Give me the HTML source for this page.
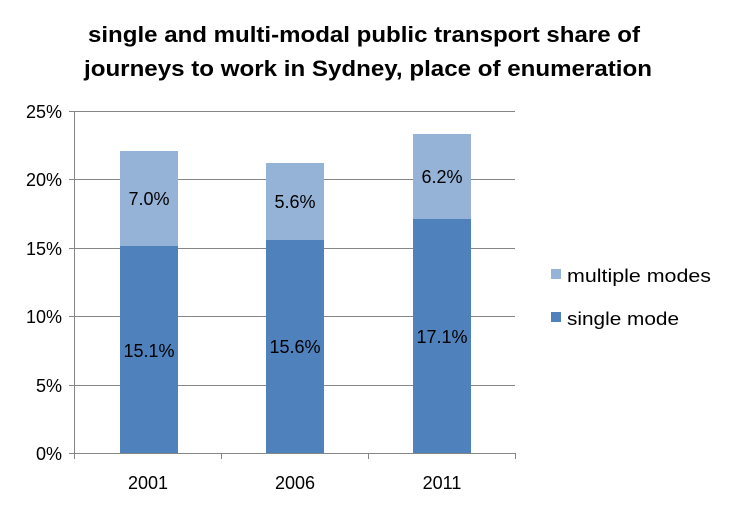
<!DOCTYPE html>
<html><head><meta charset="utf-8"><style>
body{margin:0;background:#fff;}
svg text{font-family:"Liberation Sans",sans-serif;}
</style></head><body>
<svg width="733" height="509" xmlns="http://www.w3.org/2000/svg">
<rect width="733" height="509" fill="#fff"/>
<text x="88" y="42" font-size="22" font-weight="bold" textLength="552" lengthAdjust="spacingAndGlyphs">single and multi-modal public transport share of</text>
<text x="84" y="76" font-size="22" font-weight="bold" textLength="568" lengthAdjust="spacingAndGlyphs">journeys to work in Sydney, place of enumeration</text>
<g stroke="#868686" stroke-width="1">
<line x1="74" y1="111.5" x2="515" y2="111.5"/>
<line x1="74" y1="179.5" x2="515" y2="179.5"/>
<line x1="74" y1="248.5" x2="515" y2="248.5"/>
<line x1="74" y1="316.5" x2="515" y2="316.5"/>
<line x1="74" y1="385.5" x2="515" y2="385.5"/>
<line x1="74" y1="453.5" x2="515" y2="453.5"/>
<line x1="74.5" y1="111" x2="74.5" y2="459"/>
<line x1="69" y1="111.5" x2="74" y2="111.5"/>
<line x1="69" y1="179.5" x2="74" y2="179.5"/>
<line x1="69" y1="248.5" x2="74" y2="248.5"/>
<line x1="69" y1="316.5" x2="74" y2="316.5"/>
<line x1="69" y1="385.5" x2="74" y2="385.5"/>
<line x1="69" y1="453.5" x2="74" y2="453.5"/>
<line x1="221.5" y1="453" x2="221.5" y2="459"/>
<line x1="368.5" y1="453" x2="368.5" y2="459"/>
<line x1="515.5" y1="453" x2="515.5" y2="459"/>
</g>
<g font-size="18" text-anchor="end">
<text x="62" y="118">25%</text><text x="62" y="186">20%</text><text x="62" y="255">15%</text>
<text x="62" y="323">10%</text><text x="62" y="392">5%</text><text x="62" y="460">0%</text>
</g>
<g font-size="18" text-anchor="middle">
<text x="148" y="489">2001</text><text x="295" y="489">2006</text><text x="442" y="489">2011</text>
</g>
<rect x="120" y="246" width="58" height="207" fill="#4F81BD"/>
<rect x="120" y="151" width="58" height="95" fill="#95B3D7"/>
<rect x="266" y="240" width="58" height="213" fill="#4F81BD"/>
<rect x="266" y="163" width="58" height="77" fill="#95B3D7"/>
<rect x="413" y="219" width="58" height="234" fill="#4F81BD"/>
<rect x="413" y="134" width="58" height="85" fill="#95B3D7"/>
<g font-size="18" text-anchor="middle">
<text x="149" y="357">15.1%</text><text x="149" y="205">7.0%</text>
<text x="295" y="353">15.6%</text><text x="295" y="208">5.6%</text>
<text x="442" y="343">17.1%</text><text x="442" y="183">6.2%</text>
</g>
<rect x="551" y="269" width="10" height="10" fill="#95B3D7"/>
<rect x="551" y="312" width="10" height="10" fill="#4F81BD"/>
<g font-size="18"><text x="567" y="282" textLength="144" lengthAdjust="spacingAndGlyphs">multiple modes</text><text x="567" y="325" textLength="112" lengthAdjust="spacingAndGlyphs">single mode</text></g>
</svg>
</body></html>
